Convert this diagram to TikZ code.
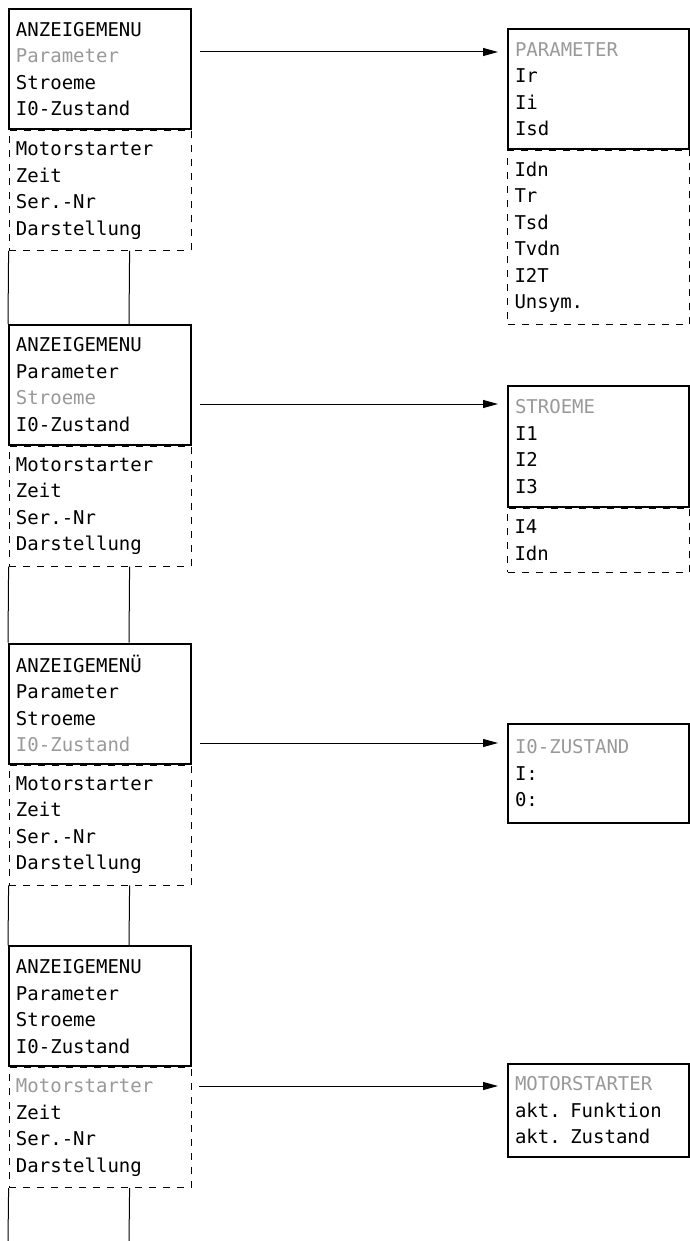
\documentclass[tikz,border=0pt]{standalone}
\usepackage{fontspec}
\newfontfamily\lcdfont{DejaVu Sans Mono}
\usetikzlibrary{positioning,arrows.meta}
\definecolor{dimtext}{gray}{0.6}
\tikzset{menu/.style={
        draw, 
        rectangle, 
        line width=2pt,
        align=left,
        text width=168pt, 
        minimum height=120pt,  
        inner xsep=7pt,
        font=\lcdfont\fontsize{19}{26.5}\selectfont } }
\tikzset{menumore/.style={
    menu, 
    line width=0.8pt, 
    dash pattern=on 7pt off 7pt } }
\tikzset{submenu/.style={menu, text width=167pt}}
\tikzset{menuarrow/.style={
    -{Triangle[length=15pt,width=8pt]}, 
    line width=1pt, 
    shorten <=8pt, 
    shorten >=9pt } }

\begin{document}
\begin{tikzpicture}[x=1pt,y=-1pt] %1px = 1pt, y downwards
\useasboundingbox (0,0) rectangle (690,1241);

% left column
\node[menu, anchor=north west] (amenu1) at (8,8) 
{ANZEIGEMENU\\\textcolor{dimtext}{Parameter}\\Stroeme\\I0-Zustand}; 
\node[menumore] (amore1) [below = 0pt of amenu1] 
{Motorstarter\\Zeit\\Ser.-Nr\\Darstellung}; 

\node[menu] (amenu2) [below = 73pt of amore1] 
{ANZEIGEMENU\\Parameter\\\textcolor{dimtext}{Stroeme}\\I0-Zustand}; 
\node[menumore] (amore2) [below = 0pt of amenu2] 
{Motorstarter\\Zeit\\Ser.-Nr\\Darstellung}; 

\node[menu] (amenu3) [below = 76pt of amore2] 
{ANZEIGEMENÜ\\Parameter\\Stroeme\\\textcolor{dimtext}{I0-Zustand}}; 
\node[menumore] (amore3) [below = 0pt of amenu3] 
{Motorstarter\\Zeit\\Ser.-Nr\\Darstellung}; 

\node[menu] (amenu4) [below = 60pt of amore3] 
{ANZEIGEMENU\\Parameter\\Stroeme\\I0-Zustand}; 
\node[menumore] (amore4) [below = 0pt of amenu4] 
{\textcolor{dimtext}{Motorstarter}\\Zeit\\Ser.-Nr\\Darstellung}; 

\coordinate (tail) at (8,1241);

% right column
\node[submenu, anchor=north west, minimum height=120pt] (para) at (507,28) 
{\textcolor{dimtext}{PARAMETER}\\Ir\\Ii\\Isd}; 
\node[submenu, menumore, minimum height=174pt] (paramore) [below = 0pt of para] 
{Idn\\Tr\\Tsd\\Tvdn\\I2T\\Unsym.}; 

\node[submenu, anchor=north west, minimum height=121pt] (stro) at (507,385) 
{\textcolor{dimtext}{STROEME}\\I1\\I2\\I3}; 
\node[submenu, menumore, minimum height=64pt] (stromore) [below = 0pt of stro] 
{I4\\Idn}; 

\node[submenu, anchor=north west, minimum height=99pt] (iozu) at (507,723) 
{\textcolor{dimtext}{I0-ZUSTAND}\\I:\\0:}; 

\node[submenu, anchor=north west, minimum height=93pt] (motor) at (507,1063) 
{\textcolor{dimtext}{MOTORSTARTER}\\akt. Funktion\\akt. Zustand}; 

% rows of the arrows
\coordinate (row1) at (0,52);
\coordinate (row2) at (0,404);
\coordinate (row3) at (0,743);
\coordinate (row4) at (0,1086);

\path[line width=1pt]
(amore1.south west) edge (amenu2.north west) 
([xshift=121pt]amore1.south west) edge ([xshift=121pt]amenu2.north west) 

(amore2.south west) edge (amenu3.north west) 
([xshift=121pt]amore2.south west) edge ([xshift=121pt]amenu3.north west) 

(amore3.south west) edge (amenu4.north west) 
([xshift=121pt]amore3.south west) edge ([xshift=121pt]amenu4.north west) 

(amore4.south west) edge (tail) 
([xshift=121pt]amore4.south west) edge ([xshift=121pt]tail) 
;

\path[menuarrow]
(row1 -| amenu1.east) edge (row1 -| para.west) 
(row2 -| amenu2.east) edge (row2 -| stro.west) 
(row3 -| amenu3.east) edge (row3 -| iozu.west) 
(row4 -| amore4.east) edge (row4 -| motor.west) 
;

\end{tikzpicture}
\end{document}
